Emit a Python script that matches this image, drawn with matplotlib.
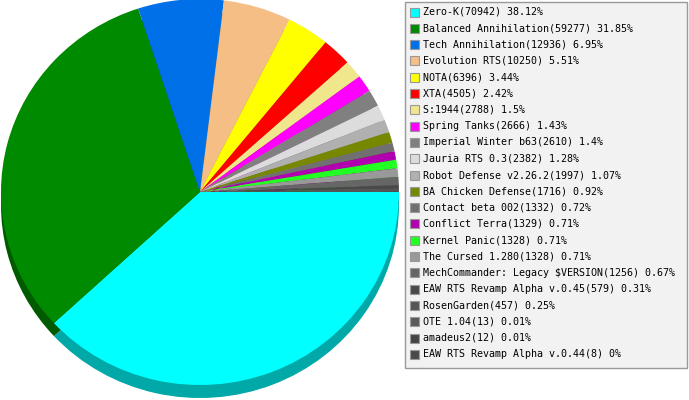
import numpy as np
import matplotlib
matplotlib.use("Agg")
import matplotlib.pyplot as plt
from matplotlib.patches import Rectangle
from matplotlib.colors import to_rgb

# Data
names = ["Zero-K", "Balanced Annihilation", "Tech Annihilation", "Evolution RTS",
         "NOTA", "XTA", "S:1944", "Spring Tanks", "Imperial Winter b63",
         "Jauria RTS 0.3", "Robot Defense v2.26.2", "BA Chicken Defense",
         "Contact beta 002", "Conflict Terra", "Kernel Panic", "The Cursed 1.280",
         "MechCommander: Legacy $VERSION", "EAW RTS Revamp Alpha v.0.45",
         "RosenGarden", "OTE 1.04", "amadeus2", "EAW RTS Revamp Alpha v.0.44"]
counts = [70942, 59277, 12936, 10250, 6396, 4505, 2788, 2666, 2610, 2382, 1997,
          1716, 1332, 1329, 1328, 1328, 1256, 579, 457, 13, 12, 8]
pct_labels = ["38.12", "31.85", "6.95", "5.51", "3.44", "2.42", "1.5", "1.43",
              "1.4", "1.28", "1.07", "0.92", "0.72", "0.71", "0.71", "0.71",
              "0.67", "0.31", "0.25", "0.01", "0.01", "0"]
colors = ["#00ffff", "#008a00", "#0070e8", "#f5be84", "#ffff00", "#ff0000",
          "#f0e68c", "#ff00ff", "#808080", "#dcdcdc", "#b0b0b0", "#778800",
          "#707070", "#b000b0", "#22ff22", "#999999", "#666666", "#4a4a4a",
          "#555555", "#5a5a5a", "#444444", "#4a4a4a"]

W, H = 689, 400
fig = plt.figure(figsize=(W / 100, H / 100), dpi=100)
ax = fig.add_axes([0, 0, 1, 1])

# pie geometry in pixels
cx, cy, rx, ry, depth = 200, 192, 199, 193, 13

shadow = [tuple(c * 0.66 for c in to_rgb(col)) for col in colors]
ax.pie(counts, colors=shadow, startangle=0, counterclock=False, radius=1,
       center=(0, -depth / ry), frame=False)
ax.pie(counts, colors=colors, startangle=0, counterclock=False, radius=1,
       center=(0, 0), frame=False)
ax.set_aspect("auto")
ax.set_xlim(-cx / rx, (W - cx) / rx)
ax.set_ylim(-(H - cy) / ry, cy / ry)
ax.axis("off")

# legend in figure pixel coordinates (top-left origin)
lax = fig.add_axes([0, 0, 1, 1])
lax.set_xlim(0, W)
lax.set_ylim(H, 0)
lax.axis("off")
lax.add_patch(Rectangle((405, 1.5), 282, 366, facecolor="#f2f2f2",
                        edgecolor="#999999", lw=1))
for i, (n, c, p, col) in enumerate(zip(names, counts, pct_labels, colors)):
    y = 12 + i * 16.3
    lax.add_patch(Rectangle((410, y - 4.5), 9, 9, facecolor=col,
                            edgecolor="#999999", lw=0.8))
    lax.text(423, y, f"{n}({c}) {p}%", fontsize=7.2, family="DejaVu Sans Mono",
             va="center", ha="left", color="#000000")

fig.savefig("out.png", dpi=100)
